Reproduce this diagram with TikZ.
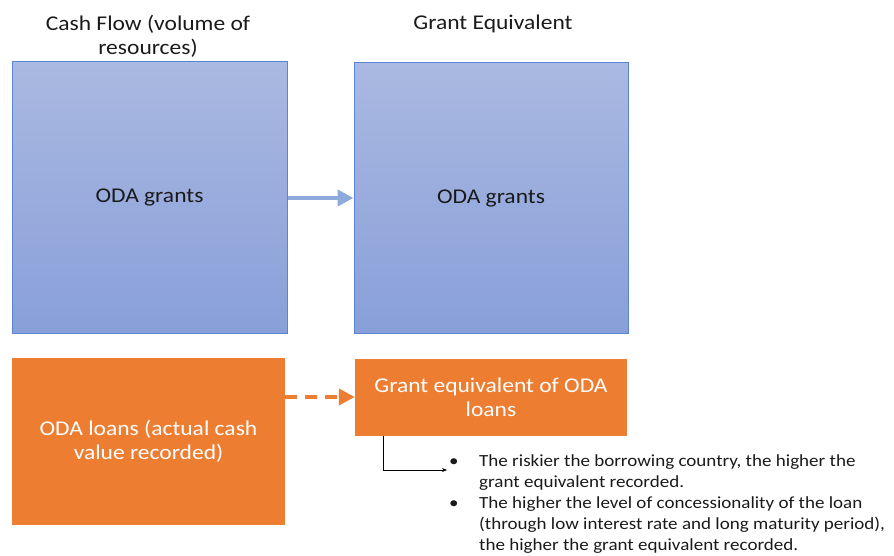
\documentclass[tikz,border=0pt]{standalone}
\usepackage{fontspec}
\setmainfont{Carlito}[FakeStretch=1.12]
\usetikzlibrary{arrows.meta}
\definecolor{bluetop}{HTML}{AAB9E1}
\definecolor{bluebot}{HTML}{889FD9}
\definecolor{blueedge}{HTML}{5B84D6}
\definecolor{bluearrow}{HTML}{8EA9DB}
\definecolor{orangefill}{HTML}{ED7D31}
\definecolor{txt}{HTML}{1A1A1A}
\tikzset{
  bluebox/.style={draw=blueedge, line width=1pt, top color=bluetop, bottom color=bluebot, inner sep=0pt, text=txt},
  orangebox/.style={fill=orangefill, draw=none, inner sep=0pt, text=white, align=center},
  label/.style={text=txt, align=center, inner sep=0pt},
  bigfont/.style={font=\fontsize{21pt}{24pt}\selectfont},
}
\begin{document}
\begin{tikzpicture}[x=1pt,y=-1pt,bigfont]
\useasboundingbox (0,0) rectangle (894,556);
\node[label] (t1) at (148,36) {Cash Flow (volume of\\resources)};
\node[label] (t2) at (493,24) {Grant Equivalent};
\node[bluebox, minimum width=275pt, minimum height=271pt] (b1) at (149.5,197.5) {ODA grants};
\node[bluebox, minimum width=274pt, minimum height=270pt] (b2) at (491,198) {ODA grants};
\node[orangebox, minimum width=273pt, minimum height=167pt] (o1) at (148.5,441.5) {ODA loans (actual cash\\value recorded)};
\node[orangebox, minimum width=272pt, minimum height=77pt] (o2) at (491,397) {Grant equivalent of ODA\\loans};
\draw[bluearrow, line width=4pt, -{Triangle[length=16pt,width=16pt]}, shorten <=0.5pt] (b1.east |- 0,198) -- (b2.west |- 0,198);
\draw[orangefill, line width=4pt, dash pattern=on 12pt off 8pt, -{Triangle[length=16pt,width=16pt]}] (o1.east |- 0,397) -- (o2.west |- 0,397);
\coordinate (tip) at (447,470);
\draw[black, line width=0.8pt, -{Stealth[length=5pt,width=4pt]}] (o2.south -| 383,0) |- (tip);
\node[anchor=north west, inner sep=0pt, text=txt, font=\fontsize{17pt}{21pt}\selectfont] (list) at (449,452) {%
\begin{tabular}{@{}p{30pt}@{}l@{}}
\textbullet & The riskier the borrowing country, the higher the\\
 & grant equivalent recorded.\\
\textbullet & The higher the level of concessionality of the loan\\
 & (through low interest rate and long maturity period),\\
 & the higher the grant equivalent recorded.
\end{tabular}};
\end{tikzpicture}
\end{document}
